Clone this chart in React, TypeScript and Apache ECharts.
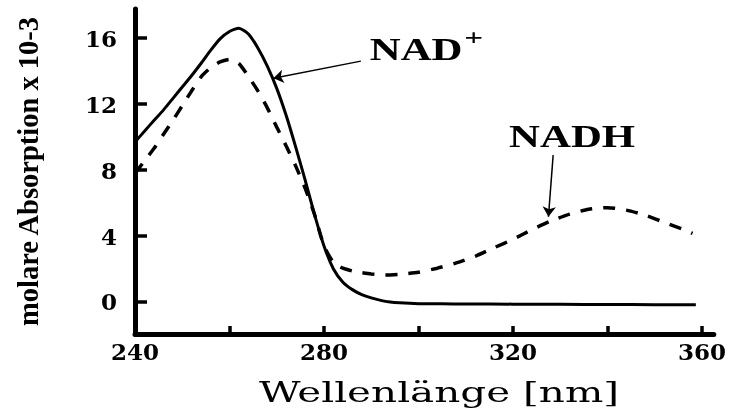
import React, { useEffect, useRef } from "react";
import * as echarts from "echarts";

// NAD+ absorption spectrum (solid)
const nadWavelength = [240, 242, 244, 246, 248, 250, 252, 254, 256, 258, 260, 262, 264, 266, 268, 270, 272, 274, 276, 278, 280, 282, 284, 286, 288, 290, 292, 294, 296, 300, 305, 310, 320, 330, 340, 350, 358.7];
const nadAbsorption = [9.7, 10.35, 11.0, 11.63, 12.33, 13.03, 13.73, 14.47, 15.25, 15.95, 16.4, 16.6, 16.25, 15.4, 14.3, 12.95, 11.3, 9.4, 7.4, 5.3, 3.4, 2.0, 1.2, 0.75, 0.45, 0.25, 0.1, 0.0, -0.05, -0.1, -0.11, -0.12, -0.13, -0.14, -0.15, -0.16, -0.17];

// NADH absorption spectrum (dashed)
const nadhWavelength = [240, 242, 244, 246, 248, 250, 252, 254, 256, 258, 260, 262, 264, 266, 268, 270, 272, 274, 276, 278, 280, 282, 284, 286, 288, 290, 293, 296, 300, 304, 308, 312, 316, 320, 324, 328, 332, 336, 340, 344, 348, 352, 356, 358];
const nadhAbsorption = [7.8, 8.55, 9.3, 10.15, 11.0, 11.9, 12.8, 13.65, 14.2, 14.55, 14.7, 14.45, 13.67, 12.8, 11.77, 10.6, 9.45, 8.25, 6.9, 5.3, 3.4, 2.4, 2.05, 1.88, 1.78, 1.7, 1.64, 1.68, 1.8, 2.05, 2.37, 2.77, 3.29, 3.8, 4.38, 4.91, 5.33, 5.62, 5.72, 5.57, 5.26, 4.83, 4.4, 4.16];

// axis ticks and labels
const xTickValues = [260, 280, 300, 320, 340, 360];
const xLabelValues = [240, 280, 320, 360];
const yTickValues = [0, 4, 8, 12, 16];

// annotations (data coordinates)
const nadArrow = [[287.8, 14.6], [269.3, 13.56]];
const nadhArrow = [[328.5, 8.9], [327.5, 5.17]];
const nadLabelPos = [299.5, 15.3];
const nadPlusPos = [311.7, 16.1];
const nadhLabelPos = [332.5, 10.0];

const xTitle = "Wellenlänge [nm]";
const yTitle = "molare Absorption x 10-3";

export default function App() {
  const ref = useRef<HTMLDivElement>(null);
  useEffect(() => {
    const chart = echarts.init(ref.current!, null, { renderer: "svg" });
    const nadData = nadWavelength.map((x, i) => [x, nadAbsorption[i]]);
    const nadhData = nadhWavelength.map((x, i) => [x, nadhAbsorption[i]]);
    const labelStyle = { color: "#000", fontFamily: "DejaVu Serif", fontWeight: "bold", fontSize: 23 };
    chart.setOption({
      animation: false,
      grid: { left: 135, right: 9, top: 9, bottom: 75 },
      xAxis: {
        type: "value",
        min: 240,
        max: 362.5,
        splitLine: { show: false },
        axisLine: { onZero: false, lineStyle: { color: "#000", width: 5 } },
        axisTick: { inside: true, length: 8, customValues: xTickValues, lineStyle: { color: "#000", width: 3.5 } },
        axisLabel: { ...labelStyle, margin: 6, customValues: xLabelValues },
      },
      yAxis: {
        type: "value",
        min: -1.94,
        max: 17.76,
        splitLine: { show: false },
        axisLine: { onZero: false, lineStyle: { color: "#000", width: 5 } },
        axisTick: { inside: true, length: 12, customValues: yTickValues, lineStyle: { color: "#000", width: 3.5 } },
        axisLabel: { ...labelStyle, margin: 18, customValues: yTickValues },
        name: yTitle,
        nameLocation: "middle",
        nameRotate: 90,
        nameGap: 92,
        nameTextStyle: { color: "#000", fontFamily: "Liberation Serif", fontWeight: "bold", fontSize: 28.5 },
      },
      series: [
        {
          name: "NAD+",
          type: "line",
          data: nadData,
          smooth: 0.2,
          showSymbol: false,
          lineStyle: { color: "#000", width: 3 },
          markLine: {
            silent: true,
            symbol: ["none", "arrow"],
            symbolSize: 10,
            label: { show: false },
            lineStyle: { color: "#000", width: 1.5, type: "solid" },
            data: [
              [{ coord: nadArrow[0] }, { coord: nadArrow[1] }],
              [{ coord: nadhArrow[0] }, { coord: nadhArrow[1] }],
            ],
          },
        },
        {
          name: "NADH",
          type: "line",
          data: nadhData,
          smooth: 0.2,
          showSymbol: false,
          lineStyle: { color: "#000", width: 3.5, type: [12, 11] },
        },
      ],
    });
    const px = (v: number[]) => chart.convertToPixel({ gridIndex: 0 }, v) as number[];
    const a = px(nadLabelPos);
    const b = px(nadPlusPos);
    const c = px(nadhLabelPos);
    const annot = { fill: "#000", fontFamily: "Liberation Serif", fontWeight: "bold", textAlign: "center", textVerticalAlign: "middle" };
    chart.setOption({
      graphic: [
        { type: "text", x: a[0], y: a[1], scaleX: 1.38, style: { ...annot, text: "NAD", fontSize: 31 } },
        { type: "text", x: b[0], y: b[1], scaleX: 1.38, style: { ...annot, text: "+", fontSize: 24 } },
        { type: "text", x: c[0], y: c[1], scaleX: 1.38, style: { ...annot, text: "NADH", fontSize: 31 } },
        { type: "text", x: 439, y: 393, scaleX: 1.5, style: { fill: "#000", fontFamily: "DejaVu Serif", fontSize: 27, textAlign: "center", textVerticalAlign: "middle", text: xTitle } },
      ],
    });
    return () => chart.dispose();
  }, []);
  return <div ref={ref} style={{ position: "fixed", left: 0, top: 0, width: 729, height: 409 }} />;
}
